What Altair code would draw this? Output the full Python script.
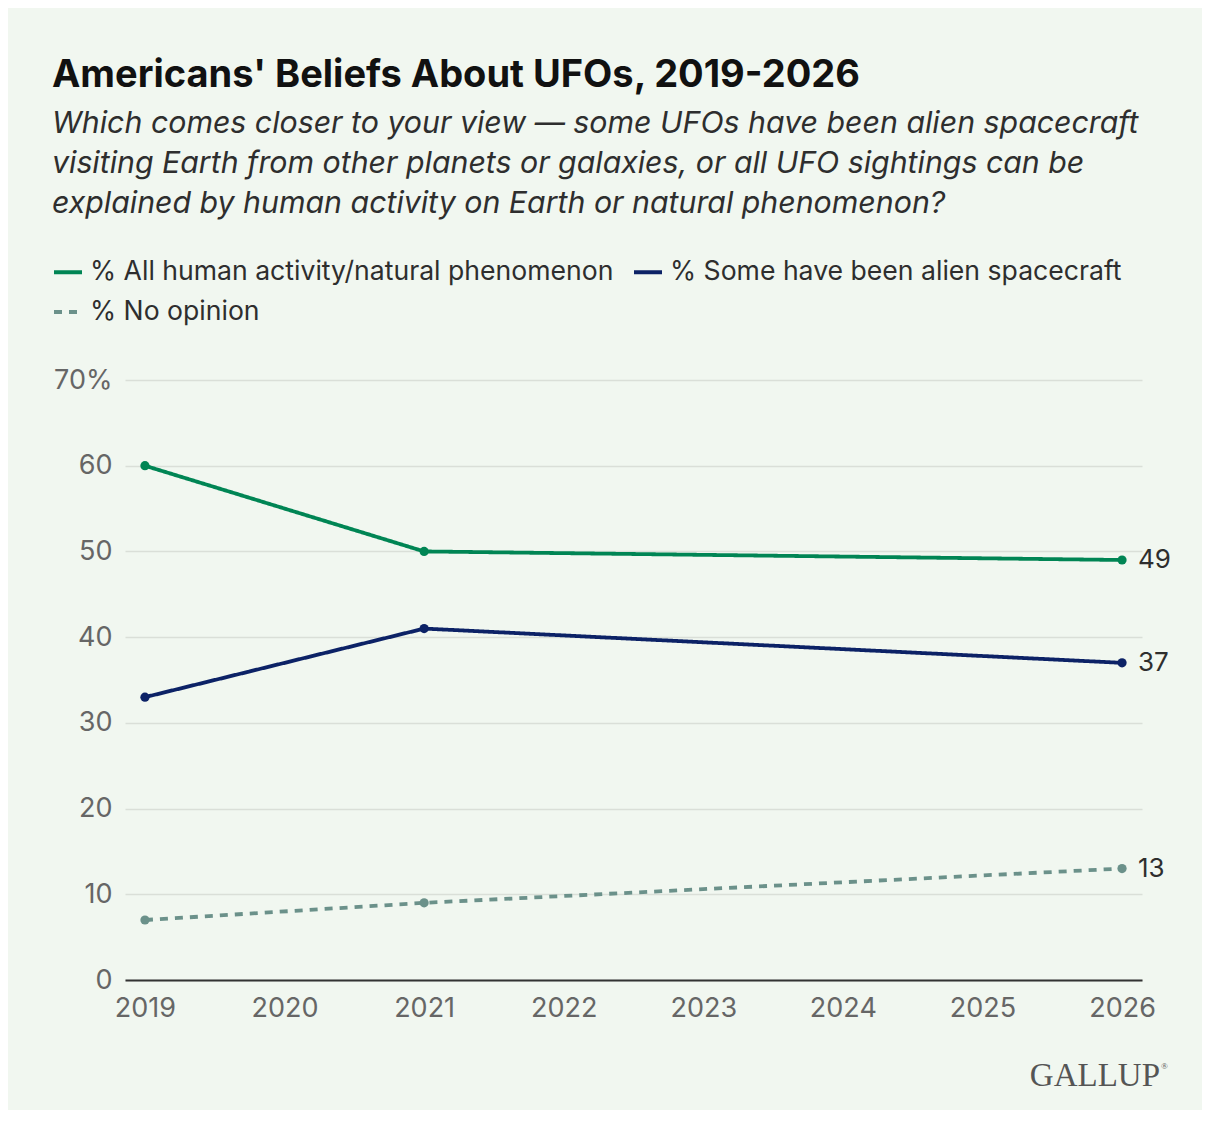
import altair as alt
import pandas as pd

years = [2019, 2021, 2026]
human = [60, 50, 49]
alien = [33, 41, 37]
no_opinion = [7, 9, 13]

series_names = [
    "% All human activity/natural phenomenon",
    "% Some have been alien spacecraft",
    "% No opinion",
]
series_colors = ["#008554", "#0C2266", "#6B918A"]
series_dash = [[1, 0], [1, 0], [8, 7]]

x_ticks = [2019, 2020, 2021, 2022, 2023, 2024, 2025, 2026]
y_ticks = [0, 10, 20, 30, 40, 50, 60, 70]

rows = []
for name, vals in zip(series_names, [human, alien, no_opinion]):
    for yr, v in zip(years, vals):
        rows.append({"year": yr, "value": v, "series": name})
df = pd.DataFrame(rows)

FONT = "Inter"

x_enc = alt.X(
    "year:Q",
    scale=alt.Scale(domain=[2018.857, 2026.143], nice=False, zero=False),
    axis=alt.Axis(
        values=x_ticks, format="d", title=None, grid=False, ticks=False,
        domainColor="#333333", domainWidth=2, labelColor="#666666",
        labelFontSize=27, labelFont=FONT, labelPadding=15,
    ),
)
y_enc = alt.Y(
    "value:Q",
    scale=alt.Scale(domain=[0, 70], nice=False),
    axis=alt.Axis(
        values=y_ticks, title=None, domain=False, ticks=False,
        gridColor="#DADFD8", gridWidth=1.5, labelColor="#666666",
        labelFontSize=27, labelFont=FONT, labelPadding=13,
        labelExpr="datum.value == 70 ? '70%' : datum.label",
    ),
)

color_scale = alt.Scale(domain=series_names, range=series_colors)

lines = alt.Chart(df).mark_line(strokeWidth=3.8).encode(
    x=x_enc,
    y=y_enc,
    color=alt.Color(
        "series:N", scale=color_scale, sort=series_names,
        legend=alt.Legend(
            title=None, orient="none", legendX=-73, legendY=-124,
            columns=2, direction="horizontal", symbolType="stroke",
            symbolSize=784, symbolStrokeWidth=4, labelFontSize=26.6,
            labelFont=FONT, labelColor="#2E2E2E", labelOffset=6,
            columnPadding=12, rowPadding=10, labelLimit=800,
        ),
    ),
    strokeDash=alt.StrokeDash(
        "series:N", scale=alt.Scale(domain=series_names, range=series_dash),
        sort=series_names,
    ),
)

points = alt.Chart(df).mark_circle(size=85, opacity=1).encode(
    x="year:Q",
    y="value:Q",
    fill=alt.Fill("series:N", scale=color_scale, legend=None),
)

end_labels = alt.Chart(df).transform_filter(alt.datum.year == 2026).mark_text(
    align="left", baseline="middle", dx=16, fontSize=26, font=FONT, color="#2E2E2E"
).encode(
    x="year:Q",
    y="value:Q",
    text="value:Q",
)

logo = alt.Chart(pd.DataFrame({"t": ["GALLUP"]})).mark_text(
    align="right", baseline="alphabetic", font="Liberation Serif",
    fontSize=33, color="#555555",
).encode(x=alt.value(1035), y=alt.value(706), text="t:N")

logo_r = alt.Chart(pd.DataFrame({"t": ["®"]})).mark_text(
    align="left", baseline="alphabetic", font="Liberation Serif",
    fontSize=9, color="#555555",
).encode(x=alt.value(1036), y=alt.value(689), text="t:N")

chart = alt.layer(lines, points, end_labels, logo, logo_r).properties(
    width=1017,
    height=600,
    autosize=alt.AutoSizeParams(type="none"),
    padding={"left": 117, "top": 372, "right": 60, "bottom": 130},
    background="#F1F7F0",
    title=alt.TitleParams(
        text="Americans' Beliefs About UFOs, 2019-2026",
        subtitle=[
            "Which comes closer to your view \u2014 some UFOs have been alien spacecraft",
            "visiting Earth from other planets or galaxies, or all UFO sightings can be",
            "explained by human activity on Earth or natural phenomenon?",
        ],
        anchor="start", frame="group", dx=-73, offset=37,
        font=FONT, fontSize=38, fontWeight="bold", color="#111111",
        subtitleFont=FONT, subtitleFontSize=30.3, subtitleFontStyle="italic",
        subtitleColor="#2E2E2E", subtitleLineHeight=40, subtitlePadding=14,
    ),
).configure_view(stroke=None)

chart.save("out.html", embed_options={"renderer": "svg", "actions": False})
